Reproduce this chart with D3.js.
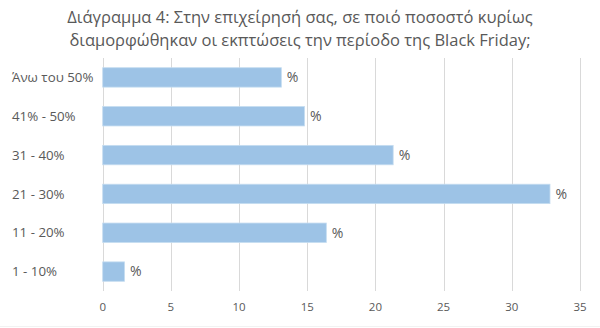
<!DOCTYPE html>
<html>
<head>
<meta charset="utf-8">
<script src="https://cdn.jsdelivr.net/npm/d3@7"></script>
<style>
  html, body { margin: 0; padding: 0; background: #fff; }
  svg { display: block; font-family: "Open Sans", "Noto Sans", sans-serif; }
</style>
</head>
<body>
<svg id="chart" width="600" height="328"></svg>
<script>
// Discount bands (top to bottom) and share of responses, in percent
const categories = ["Άνω του 50%", "41% - 50%", "31 - 40%", "21 - 30%", "11 - 20%", "1 - 10%"];
const values = [13.1, 14.8, 21.3, 32.8, 16.4, 1.6];
const xTicks = [0, 5, 10, 15, 20, 25, 30, 35];
const titleLines = [
  "Διάγραμμα 4: Στην επιχείρησή σας, σε ποιό ποσοστό κυρίως",
  "διαμορφώθηκαν οι εκπτώσεις την περίοδο της Black Friday;"
];

const W = 600, H = 328;
const margin = { top: 58, right: 20, bottom: 37, left: 102.7 };
const svg = d3.select("#chart");

const x = d3.scaleLinear().domain([0, 35]).range([margin.left, 580]);
const y = d3.scaleBand().domain(categories).range([margin.top, H - margin.bottom]).paddingInner(0.5).paddingOuter(0.25);

// Title
svg.append("g").selectAll("text").data(titleLines).join("text")
  .attr("x", 300).attr("y", (d, i) => 23 + i * 23)
  .attr("text-anchor", "middle")
  .attr("fill", "#595959")
  .style("font-size", "16.5px")
  .text(d => d);

// Vertical gridlines
svg.append("g").selectAll("line").data(xTicks).join("line")
  .attr("x1", d => Math.round(x(d)) + 0.5).attr("x2", d => Math.round(x(d)) + 0.5)
  .attr("y1", margin.top).attr("y2", H - margin.bottom)
  .attr("stroke", "#d9d9d9").attr("stroke-width", 1);

// X axis tick labels
svg.append("g").selectAll("text").data(xTicks).join("text")
  .attr("x", d => x(d)).attr("y", 311)
  .attr("text-anchor", "middle")
  .attr("fill", "#595959")
  .style("font-size", "11.5px")
  .text(d => d);

// Category labels, left-aligned
svg.append("g").selectAll("text").data(categories).join("text")
  .attr("x", 12).attr("y", d => y(d) + y.bandwidth() / 2)
  .attr("dy", "0.35em")
  .attr("text-anchor", "start")
  .attr("fill", "#595959")
  .style("font-size", "13.3px")
  .text(d => d);

// Bars
svg.append("g").selectAll("rect").data(values).join("rect")
  .attr("x", x(0))
  .attr("y", (d, i) => y(categories[i]))
  .attr("width", d => x(d) - x(0))
  .attr("height", y.bandwidth())
  .attr("fill", "#9dc3e6")
  .attr("stroke", "#c5dcf0").attr("stroke-width", 0.8);

// Data labels
svg.append("g").selectAll("text").data(values).join("text")
  .attr("x", d => x(d) + 5.5)
  .attr("y", (d, i) => y(categories[i]) + y.bandwidth() / 2)
  .attr("dy", "0.35em")
  .attr("fill", "#595959")
  .style("font-size", "14px")
  .text("%");

// Faint chart-area edge
svg.append("line").attr("x1", 0).attr("x2", W).attr("y1", 326.5).attr("y2", 326.5)
  .attr("stroke", "#f2f2f2");
</script>
</body>
</html>
